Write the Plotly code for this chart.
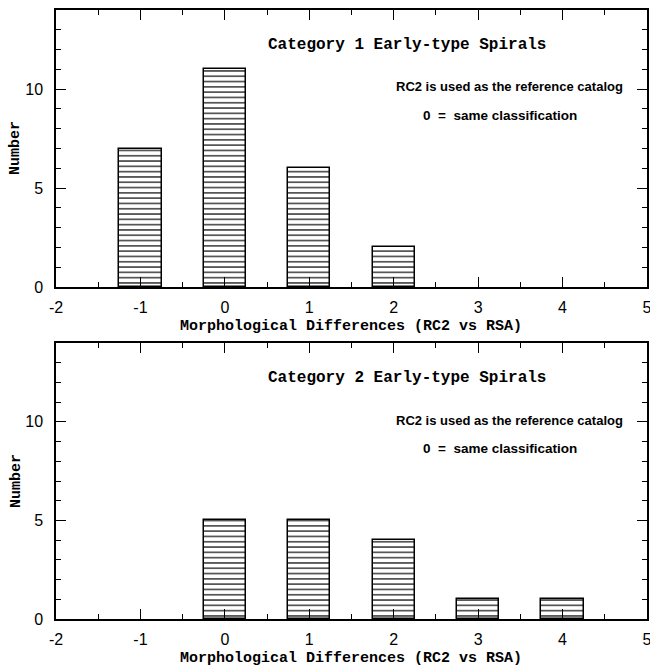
import plotly.graph_objects as go

# Data
diff_cat1 = [-1, 0, 1, 2]
count_cat1 = [7, 11, 6, 2]
diff_cat2 = [0, 1, 2, 3, 4]
count_cat2 = [5, 5, 4, 1, 1]
x_ticks = [-2, -1, 0, 1, 2, 3, 4, 5]
y_ticks = [0, 5, 10]
x_title = "Morphological Differences (RC2 vs RSA)"
y_title = "Number"
note1 = "RC2 is used as the reference catalog"
note2 = "0\u00a0\u00a0=\u00a0\u00a0same classification"

W, H = 650, 671
ML, MR, MT, MB = 56, 3, 10, 52
PH = H - MT - MB
top_dom = [(H - MB - 287) / PH, 1.0]
bot_dom = [0.0, (H - MB - 343) / PH]

fig = go.Figure()

bar_style = dict(
    width=0.5,
    marker=dict(color="white", line=dict(color="black", width=1.5),
                pattern=dict(shape="-", size=5.3, solidity=0.22, fgcolor="black", bgcolor="white",
                             fillmode="replace")),
    showlegend=False,
)
fig.add_trace(go.Bar(x=diff_cat1, y=count_cat1, xaxis="x", yaxis="y", **bar_style))
fig.add_trace(go.Bar(x=diff_cat2, y=count_cat2, xaxis="x2", yaxis="y2", **bar_style))

tickfont = dict(family="Liberation Sans, Arial, sans-serif", size=16, color="black")
titlefont = dict(family="Liberation Mono, Courier New, monospace", size=15, color="black", weight="bold")

def xax(anchor):
    return dict(domain=[0, 1], anchor=anchor, range=[-2, 5], tickvals=x_ticks,
                ticktext=[str(v) for v in x_ticks], automargin=False, ticklabeloverflow="allow",
                showline=True, linecolor="black", linewidth=1.5, mirror="ticks",
                ticks="inside", ticklen=10, tickwidth=1, tickcolor="black",
                minor=dict(dtick=0.5, ticks="inside", ticklen=5, tickwidth=1, tickcolor="black", showgrid=False),
                showgrid=False, zeroline=False, tickfont=tickfont, ticklabelstandoff=5)

def yax(anchor, dom):
    return dict(domain=dom, anchor=anchor, range=[0, 14], tickvals=y_ticks, automargin=False,
                showline=True, linecolor="black", linewidth=1.5, mirror="ticks",
                ticks="inside", ticklen=10, tickwidth=1, tickcolor="black",
                minor=dict(dtick=1, ticks="inside", ticklen=5, tickwidth=1, tickcolor="black", showgrid=False),
                showgrid=False, zeroline=False, tickfont=tickfont, ticklabelstandoff=8)

fig.update_layout(
    width=W, height=H,
    margin=dict(l=ML, r=MR, t=MT, b=MB, autoexpand=False),
    paper_bgcolor="white", plot_bgcolor="white",
    bargap=0,
    xaxis=xax("y"), yaxis=yax("x", top_dom),
    xaxis2=xax("y2"), yaxis2=yax("x2", bot_dom),
)

ann_title_font = dict(family="Liberation Mono, Courier New, monospace", size=16, color="black", weight="bold")
ann_font = dict(family="Liberation Sans, Arial, sans-serif", size=13, color="black", weight="bold")
ann_font2 = dict(family="Liberation Sans, Arial, sans-serif", size=13.5, color="black", weight="bold")

def ypx(px):
    return (H - MB - px) / PH

def xpx(px):
    return (px - ML) / (W - ML - MR)

for label, ty, r1, r2, xt, yt in [("Category 1 Early-type Spirals", 45, 87, 115, 326, 148),
                                  ("Category 2 Early-type Spirals", 378, 421, 448, 658, 481)]:
    fig.add_annotation(text=label, x=xpx(407), y=ypx(ty), xref="paper", yref="paper",
                       xanchor="center", yanchor="middle", showarrow=False, font=ann_title_font)
    fig.add_annotation(text=note1, x=xpx(509), y=ypx(r1),
                       xref="paper", yref="paper", xanchor="center", yanchor="middle",
                       showarrow=False, font=ann_font)
    fig.add_annotation(text=note2, x=xpx(500), y=ypx(r2),
                       xref="paper", yref="paper", xanchor="center", yanchor="middle",
                       showarrow=False, font=ann_font2)
    fig.add_annotation(text=x_title, x=xpx(351), y=ypx(xt), xref="paper", yref="paper",
                       xanchor="center", yanchor="middle", showarrow=False, font=titlefont)
    fig.add_annotation(text=y_title, x=xpx(16), y=ypx(yt), xref="paper", yref="paper",
                       xanchor="center", yanchor="middle", showarrow=False, font=titlefont,
                       textangle=-90)

fig.write_html("out.html", config={"displayModeBar": False},
               post_script="document.body.style.margin='0';document.body.style.overflow='hidden';")
